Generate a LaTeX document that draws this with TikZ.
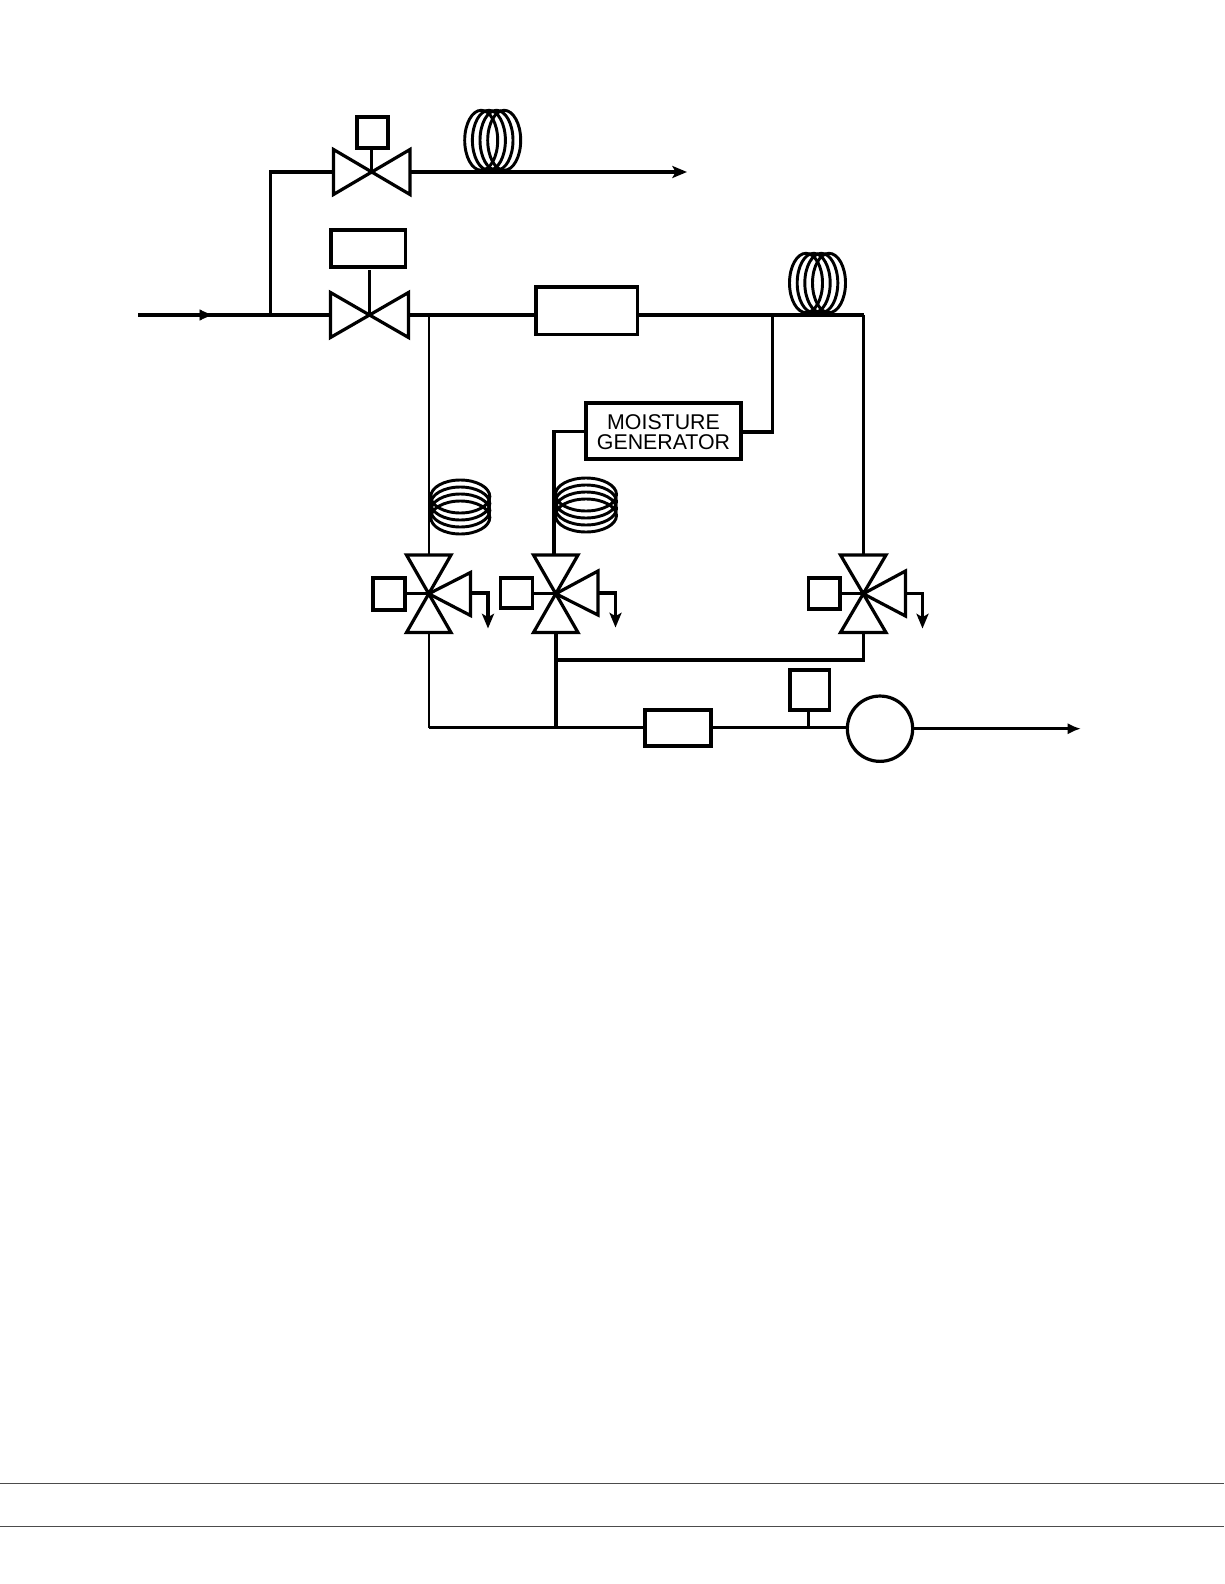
\documentclass[tikz,border=0pt]{standalone}
\usepackage{fontspec}
\setmainfont{Liberation Sans}
\usetikzlibrary{arrows.meta}
% 1 unit = 1 reference pixel; y runs downwards
\newcommand{\pxbox}[5]{% name, x1, y1, x2, y2 (centre lines of the stroke)
  \pgfmathsetmacro{\bw}{(#4-#2)*0.75}\pgfmathsetmacro{\bh}{(#5-#3)*0.75}
  \node[boxnode,minimum width=\bw pt,minimum height=\bh pt] (#1) at ({(#2+#4)/2},{(#3+#5)/2}) {};}
\newcommand{\pxvalve}[5]{% name, x1, y1, x2, y2: invisible frame of a valve
  \pgfmathsetmacro{\bw}{(#4-#2)*0.75}\pgfmathsetmacro{\bh}{(#5-#3)*0.75}
  \node[frame,minimum width=\bw pt,minimum height=\bh pt] (#1) at ({(#2+#4)/2},{(#3+#5)/2}) {};}
\newcommand{\hvalve}[1]{\draw[pipe,line join=miter] (#1.north west) -- (#1.south west) -- (#1.north east) -- (#1.south east) -- cycle;}
\newcommand{\threeway}[2]{% vertical frame, frame of the side triangle
  \draw[pipe,line join=miter] (#1.north west) -- (#1.north east) -- (#1.south west) -- (#1.south east) -- cycle;
  \draw[pipe,line join=miter] (#1.center) -- (#2.north east) -- (#2.south east) -- cycle;}
\newcommand{\vcoil}[3]{% centre x, centre y, half height: loops side by side
  \foreach \dx in {-11.5,-3.8,3.8,11.5} \draw[coil] ({#1+\dx},#2) ellipse [x radius=16.5,y radius=#3];}
\newcommand{\hcoil}[3]{% centre x, centre y, half width: loops stacked
  \foreach \dy in {-10.5,-3.5,3.5,10.5} \draw[coil] (#1,{#2+\dy}) ellipse [x radius=#3,y radius=16.5];}
\tikzset{
  boxnode/.style={draw,line width=2.4pt,inner sep=0pt,outer sep=0pt},
  frame/.style={inner sep=0pt,outer sep=0pt},
  pipe/.style={line width=2.4pt},
  thinpipe/.style={line width=1.6pt},
  coil/.style={line width=2.2pt},
  rule/.style={line width=0.5pt,draw=black!70},
  stealthend/.style={-{Stealth[length=11pt,width=9pt,inset=2.5pt]}},
  solidend/.style={-{Latex[length=10pt,width=8.5pt]}},
  solidmid/.style={-{Latex[length=10pt,width=8.5pt]}},
}
\begin{document}
\begin{tikzpicture}[x=0.75pt,y=-0.75pt]
\useasboundingbox (0,0) rectangle (1224,1584);
\fill[white] (0,0) rectangle (1224,1584);

% valves and their actuators
\pxvalve{vtop}{333.5}{149.5}{410}{194.5}
\pxbox{atop}{357}{117}{388}{148}
\pxvalve{vmain}{330.5}{292.5}{408.5}{337.5}
\pxbox{amain}{331}{230}{405.5}{267}
\pxbox{filter}{536}{287}{637.5}{334.5}

\pxvalve{va}{406.5}{555}{451}{632.5}
\pxvalve{vas}{429}{572.5}{470.5}{615.5}
\pxbox{aa}{373}{578}{405}{610}
\pxvalve{vb}{533.5}{555}{578}{632.5}
\pxvalve{vbs}{556}{571}{598}{615}
\pxbox{ab}{500.5}{578}{532.5}{608}
\pxvalve{vc}{840.5}{555}{886}{632.5}
\pxvalve{vcs}{863.5}{571}{905.5}{616}
\pxbox{ac}{808.5}{578}{840}{609}

\pxbox{gen}{586}{403}{741}{459}
\node[font=\fontsize{16}{15.5}\selectfont,align=center,inner sep=0pt] (gentext) at (663.5,432) {MOISTURE\\GENERATOR};

\pxbox{flow}{645}{710}{711}{746}
\pxbox{sensor}{790}{670}{829.5}{710}
\node[draw,circle,line width=2.4pt,inner sep=0pt,outer sep=0pt,minimum size=49pt] (pump) at (880,728.7) {};

% coils
\vcoil{492.7}{140.3}{30}
\vcoil{817.5}{283}{29.7}
\hcoil{460.3}{507}{29.5}
\hcoil{586}{505}{30.5}

% coordinates
\coordinate (in) at (138,315);
\coordinate (inarrow) at (213,315);
\coordinate (j1) at (270.5,315);
\coordinate (t1) at (270.5,172);
\coordinate (outtop) at (687,172);
\coordinate (j2) at (428.7,315);
\coordinate (j3) at (772.5,315);
\coordinate (j4) at (863.5,315);
\coordinate (g1) at (772.5,432);
\coordinate (g2) at (554,431.5);
\coordinate (j5) at (556,660);
\coordinate (j6) at (863.5,660);
\coordinate (b1) at (428.7,727.5);
\coordinate (b2) at (556,727.5);
\coordinate (b3) at (808.5,727.5);
\coordinate (out) at (1081,728.7);
\coordinate (da1) at (488,593);
\coordinate (da2) at (488,628.5);
\coordinate (db1) at (615.5,593);
\coordinate (db2) at (615.5,627.5);
\coordinate (dc1) at (922.5,593.5);
\coordinate (dc2) at (922.5,628.5);

% actuators on valves
\draw[pipe] (atop.south -| vtop.center) -- (vtop.center);
\draw[pipe] (369.5,270) -- (vmain.center);
\hvalve{vtop}
\hvalve{vmain}
\threeway{va}{vas}
\threeway{vb}{vbs}
\threeway{vc}{vcs}
\draw[pipe] (aa.east |- va.center) -- (va.center);
\draw[pipe] (ab.east |- vb.center) -- (vb.center);
\draw[pipe] (ac.east |- vc.center) -- (vc.center);

% connectors
\draw[pipe] (in) -- (vmain.west |- in);
\draw[solidmid] (in) -- (inarrow);
\draw[pipe] (j1) -- (t1) -- (vtop.west |- t1);
\draw[pipe,stealthend] (vtop.east |- outtop) -- (outtop);
\draw[pipe] (vmain.east |- j2) -- (filter.west |- j2);
\draw[pipe] (filter.east |- j4) -- (j4);
\draw[pipe] (j3) -- (g1) -- (gen.east |- g1);
\draw[pipe] (gen.west |- g2) -- (g2) -- (g2 |- vb.north);
\draw[thinpipe] (j2) -- (j2 |- va.north);
\draw[pipe] (j4) -- (j4 |- vc.north);
\draw[pipe] (j6 |- vc.south) -- (j6) -- (j5);
\draw[pipe] (b2 |- vb.south) -- (b2);
\draw[thinpipe] (b1 |- va.south) -- (b1);
\draw[pipe] (b1) -- (flow.west |- b1);
\draw[pipe] (flow.east |- b1) -- (pump.west |- b1);
\draw[thinpipe] (b3 |- sensor.south) -- (b3);
\draw[pipe,solidend] (pump.east |- out) -- (out);
\draw[pipe,stealthend] (vas.east |- da1) -- (da1) -- (da2);
\draw[pipe,stealthend] (vbs.east |- db1) -- (db1) -- (db2);
\draw[pipe,stealthend] (vcs.east |- dc1) -- (dc1) -- (dc2);

% page rules
\coordinate (r1l) at (0,1483);
\coordinate (r1r) at (1224,1483);
\coordinate (r2l) at (0,1526);
\coordinate (r2r) at (1224,1526);
\draw[rule] (r1l) -- (r1r);
\draw[rule] (r2l) -- (r2r);
\end{tikzpicture}
\end{document}
